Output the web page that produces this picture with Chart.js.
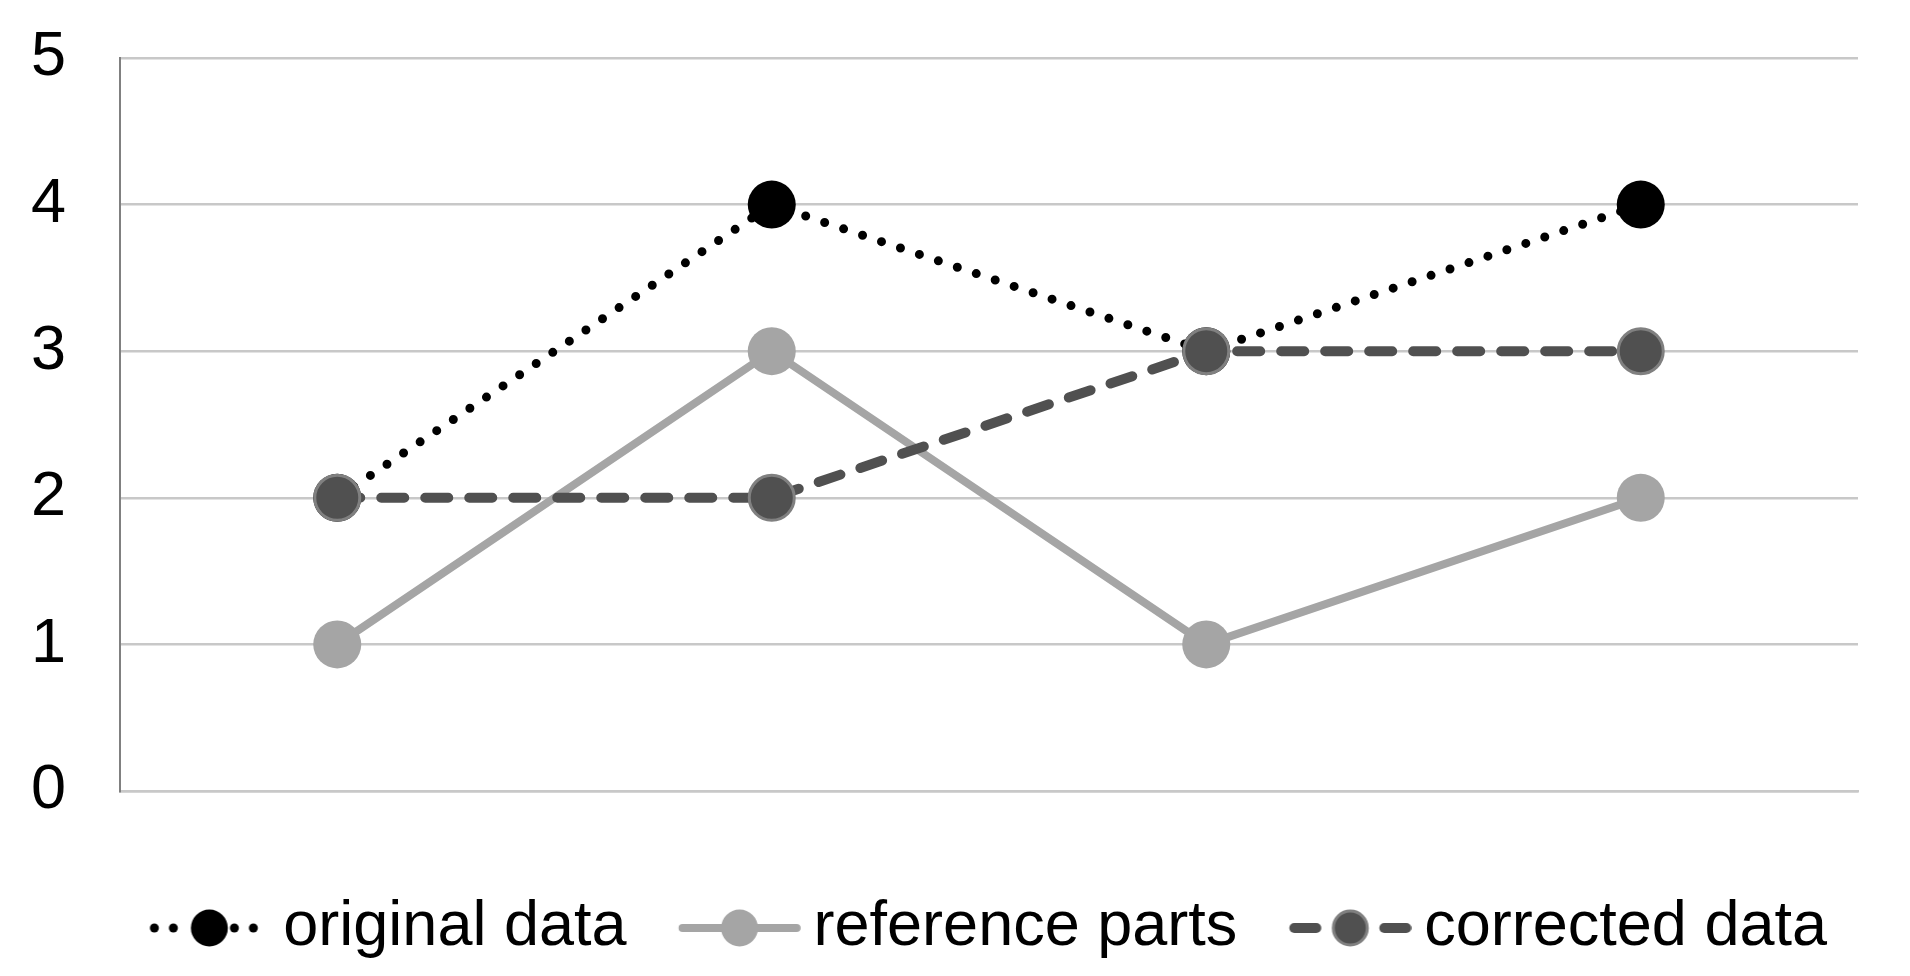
<!DOCTYPE html>
<html><head><meta charset="utf-8">
<script src="https://cdn.jsdelivr.net/npm/chart.js@4.4.0/dist/chart.umd.min.js"></script>
<style>html,body{margin:0;padding:0;background:#fff;overflow:hidden}</style>
</head><body>
<canvas id="c" width="1910" height="976" style="display:block;width:1910px;height:976px"></canvas>
<script>
const categories = ['1', '2', '3', '4'];
const originalData = [2, 4, 3, 4];
const referenceParts = [1, 3, 1, 2];
const correctedData = [2, 2, 3, 3];
const seriesNames = ['original data', 'reference parts', 'corrected data'];
const yMin = 0, yMax = 5, yStep = 1;

const FONT = "'Liberation Sans', Arial, sans-serif";
const BLACK = '#000000', LIGHT = '#a5a5a5', DARK = '#505050', DARKBORDER = '#808080';

// legend icon geometry
const P = 124.5, A = 21, C = 122;
function makeIcon(kind) {
  const center = P / 2, start = A, end = A + C;
  const halfW = Math.max(center - start, end - center);
  const W = Math.ceil(2 * halfW), H = 44;
  const off = start - (center - W / 2);
  const cv = document.createElement('canvas');
  cv.width = W; cv.height = H;
  const g = cv.getContext('2d');
  const cy = H / 2, mx = off + C / 2;
  g.lineCap = 'round';
  if (kind === 0) {
    g.fillStyle = BLACK;
    [6, 25, 86, 105].forEach(d => { g.beginPath(); g.arc(off + d, cy, 4.5, 0, Math.PI * 2); g.fill(); });
    g.beginPath(); g.arc(mx, cy, 18.5, 0, Math.PI * 2); g.fill();
  } else if (kind === 1) {
    g.strokeStyle = LIGHT; g.lineWidth = 8;
    g.beginPath(); g.moveTo(off + 4, cy); g.lineTo(off + C - 4, cy); g.stroke();
    g.fillStyle = LIGHT;
    g.beginPath(); g.arc(mx, cy, 18.5, 0, Math.PI * 2); g.fill();
  } else {
    g.strokeStyle = DARK; g.lineWidth = 10;
    g.beginPath(); g.moveTo(off + 5, cy); g.lineTo(off + 27, cy); g.stroke();
    g.beginPath(); g.moveTo(off + C - 27, cy); g.lineTo(off + C - 5, cy); g.stroke();
    g.fillStyle = DARK; g.strokeStyle = DARKBORDER; g.lineWidth = 3;
    g.beginPath(); g.arc(mx, cy, 17, 0, Math.PI * 2); g.fill(); g.stroke();
  }
  return cv;
}
const icons = [makeIcon(0), makeIcon(1), makeIcon(2)];

new Chart(document.getElementById('c'), {
  type: 'line',
  data: {
    labels: categories,
    datasets: [
      {
        label: seriesNames[0], data: originalData, order: 2,
        borderColor: BLACK, borderWidth: 9, borderDash: [0, 20], borderCapStyle: 'round',
        pointRadius: 24, pointHoverRadius: 24, pointBackgroundColor: BLACK, pointBorderWidth: 0,
        tension: 0, fill: false
      },
      {
        label: seriesNames[1], data: referenceParts, order: 1,
        borderColor: LIGHT, borderWidth: 8, borderCapStyle: 'round', borderJoinStyle: 'round',
        pointRadius: 24, pointHoverRadius: 24, pointBackgroundColor: LIGHT, pointBorderWidth: 0,
        tension: 0, fill: false
      },
      {
        label: seriesNames[2], data: correctedData, order: 0,
        borderColor: DARK, borderWidth: 10, borderDash: [23, 21], borderCapStyle: 'round',
        pointRadius: 22.5, pointHoverRadius: 22.5, pointBackgroundColor: DARK,
        pointBorderColor: DARKBORDER, pointBorderWidth: 3,
        tension: 0, fill: false
      }
    ]
  },
  options: {
    responsive: false,
    devicePixelRatio: 1,
    animation: false,
    events: [],
    layout: { padding: { left: 31, right: 52, top: 58, bottom: 6.5 } },
    scales: {
      x: {
        type: 'category', offset: true,
        grid: { display: false, drawTicks: false },
        ticks: { display: false },
        border: { color: '#c8c8c8', width: 2.6 },
        afterFit: s => { s.height = 74.5; }
      },
      y: {
        min: yMin, max: yMax,
        ticks: { stepSize: yStep, color: BLACK, padding: 0, crossAlign: 'far', font: { family: FONT, size: 63 } },
        grid: { color: '#c8c8c8', lineWidth: 2.6, drawTicks: false },
        border: { color: '#808080', width: 2 },
        afterFit: s => { s.width = 89; }
      }
    },
    plugins: {
      tooltip: { enabled: false },
      legend: {
        position: 'bottom', align: 'end', fullSize: true,
        labels: {
          usePointStyle: true, pointStyleWidth: P, padding: 31,
          color: BLACK, font: { family: FONT, size: 63 },
          sort: (a, b) => a.datasetIndex - b.datasetIndex,
          generateLabels: chart => {
            const items = Chart.defaults.plugins.legend.labels.generateLabels(chart);
            items.forEach(it => { it.pointStyle = icons[it.datasetIndex]; });
            return items;
          }
        }
      }
    }
  }
});
</script>
</body></html>
